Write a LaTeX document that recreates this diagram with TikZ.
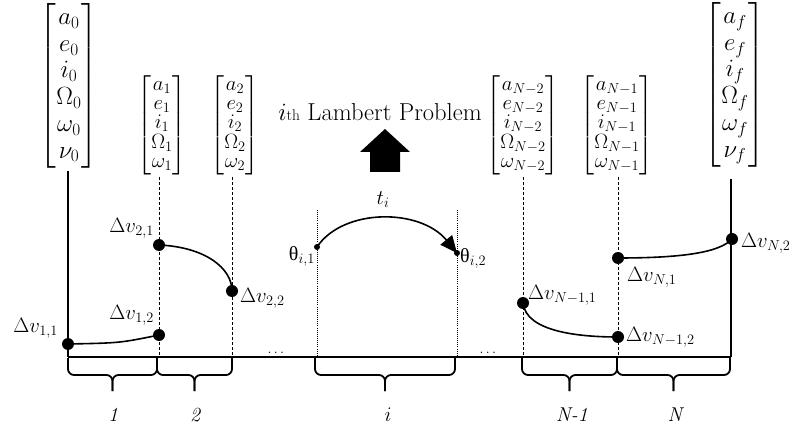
\documentclass[tikz,border=0pt]{standalone}
\usepackage{amsmath}
\usepackage{fontspec}
\newfontfamily\grkfont{Liberation Serif}
\usetikzlibrary{arrows.meta}
\setlength{\arraycolsep}{1pt}
\newcommand{\uth}{\text{\grkfont θ}}
\begin{document}
\begin{tikzpicture}[x=1pt,y=-1pt,
  solidln/.style={line width=2pt},
  dashln/.style={line width=1pt,dash pattern=on 3pt off 2pt},
  dotln/.style={line width=0.9pt,dash pattern=on 0.9pt off 1.2pt},
  bigdot/.style={circle,fill,inner sep=0pt,minimum size=12pt},
  smalldot/.style={circle,fill,inner sep=0pt,minimum size=6pt},
  lbl/.style={font=\fontsize{20}{23}\selectfont,inner sep=1pt},
  bigvec/.style={font=\fontsize{27}{26.7}\selectfont,inner sep=0pt},
  smallvec/.style={font=\fontsize{20}{19}\selectfont,inner sep=0pt},
  curve/.style={line width=1.6pt},
  brc/.style={line width=1.8pt,rounded corners=6pt},
  seglbl/.style={font=\fontsize{20}{24}\selectfont\itshape}
]
\useasboundingbox (0,0) rectangle (792,435);

% state vectors
\node[bigvec] (v0) at (69,86) {$\left[\begin{matrix} a_0\\ e_0\\ i_0\\ \Omega_0\\ \omega_0\\ \nu_0\end{matrix}\right]$};
\node[bigvec] (vf) at (735,85) {$\left[\begin{matrix} a_f\\ e_f\\ i_f\\ \Omega_f\\ \omega_f\\ \nu_f\end{matrix}\right]$};
\node[smallvec] (v1) at (162,125) {$\left[\begin{matrix} a_1\\ e_1\\ i_1\\ \Omega_1\\ \omega_1\end{matrix}\right]$};
\node[smallvec] (v2) at (235,125) {$\left[\begin{matrix} a_2\\ e_2\\ i_2\\ \Omega_2\\ \omega_2\end{matrix}\right]$};
\node[smallvec] (vN2) at (523,125) {$\left[\begin{matrix} a_{N-2}\\ e_{N-2}\\ i_{N-2}\\ \Omega_{N-2}\\ \omega_{N-2}\end{matrix}\right]$};
\node[smallvec] (vN1) at (617,125) {$\left[\begin{matrix} a_{N-1}\\ e_{N-1}\\ i_{N-1}\\ \Omega_{N-1}\\ \omega_{N-1}\end{matrix}\right]$};

% Lambert label and block arrow
\node[font=\fontsize{24.5}{27}\selectfont] (lam) at (380,112) {$i${\fontsize{15.5}{16}\selectfont th} Lambert Problem};
\fill (370,172) -- (370,152) -- (360,152) -- (385,129) -- (410,152) -- (400,152) -- (400,172) -- cycle;

% coordinates
\coordinate (t0) at (68,171);
\coordinate (b0) at (68,357);
\coordinate (t1) at (159,177);
\coordinate (b1) at (159,357);
\coordinate (t2) at (232,177);
\coordinate (b2) at (232,357);
\coordinate (ti1) at (317,210);
\coordinate (bi1) at (317,357);
\coordinate (ti2) at (457,210);
\coordinate (bi2) at (457,357);
\coordinate (tN2) at (523,177);
\coordinate (bN2) at (523,357);
\coordinate (tN1) at (618,177);
\coordinate (bN1) at (618,357);
\coordinate (tf) at (731,179);
\coordinate (bf) at (731,357);

% lines
\draw[solidln] (t0) -- (b0);
\draw[solidln] (tf) -- (bf);
\draw[solidln] (b0) -- (bf);
\draw[dashln] (t1) -- (b1);
\draw[dashln] (t2) -- (b2);
\draw[dashln] (tN2) -- (bN2);
\draw[dashln] (tN1) -- (bN1);
\draw[dotln] (ti1) -- (bi1);
\draw[dotln] (ti2) -- (bi2);

% dots
\node[bigdot] (d11) at (68,344) {};
\node[bigdot] (d12) at (159,335) {};
\node[bigdot] (d21) at (159,245) {};
\node[bigdot] (d22) at (232,291) {};
\node[bigdot] (dN11) at (523,303) {};
\node[bigdot] (dN12) at (618,337) {};
\node[bigdot] (dN1) at (618,258) {};
\node[bigdot] (dN2) at (732,239) {};
\node[smalldot] (th1) at (317,247) {};
\node[smalldot] (th2) at (457,253) {};

% curves
\draw[curve] (d11.center) .. controls (120,343) .. (d12.center);
\draw[curve] (d21.center) .. controls (205,247) and (232,268) .. (d22.center);
\draw[curve] (dN11.center) .. controls (526,332) and (580,337) .. (dN12.center);
\draw[curve] (dN1.center) .. controls (685,258) and (720,252) .. (dN2.center);
\draw[curve,-{Triangle[length=17pt,width=15pt]}] (th1.center) .. controls (343,208) and (420,208) .. (th2.center);

% labels
\node[lbl,anchor=east] (l11) at (59,328) {$\Delta v_{1,1}$};
\node[lbl,anchor=east] (l12) at (155,315) {$\Delta v_{1,2}$};
\node[lbl,anchor=east] (l21) at (155,228) {$\Delta v_{2,1}$};
\node[lbl,anchor=west] (l22) at (239,298) {$\Delta v_{2,2}$};
\node[lbl,anchor=west] (lN11) at (527,295) {$\Delta v_{N-1,1}$};
\node[lbl,anchor=west] (lN12) at (625,337) {$\Delta v_{N-1,2}$};
\node[lbl,anchor=west] (lN1) at (626,277) {$\Delta v_{N,1}$};
\node[lbl,anchor=west] (lN2) at (740,243) {$\Delta v_{N,2}$};
\node[lbl,anchor=east] (lth1) at (316,256) {$\uth_{i,1}$};
\node[lbl,anchor=west] (lth2) at (459,258) {$\uth_{i,2}$};
\node[lbl] (lt) at (383,200) {$t_i$};

% ellipses
\node[font=\fontsize{15}{18}\selectfont,anchor=base] (e1) at (277,353) {$\dots$};
\node[font=\fontsize{15}{18}\selectfont,anchor=base] (e2) at (489,353) {$\dots$};

% braces
\foreach \xa/\xb in {68/157, 157/232, 315/455, 522/617, 617/730}{
  \pgfmathsetmacro\xm{(\xa+\xb)/2}
  \draw[brc] (\xa,358) -- (\xa,375) -- (\xm,375) -- (\xm,391);
  \draw[brc] (\xb,358) -- (\xb,375) -- (\xm,375) -- (\xm,391);
}

\node[seglbl] (s1) at (113,415) {1};
\node[seglbl] (s2) at (195,415) {2};
\node[seglbl] (si) at (388,415) {$i$};
\node[seglbl] (sN1) at (572,415) {N-1};
\node[seglbl] (sN) at (675,415) {N};
\end{tikzpicture}
\end{document}
